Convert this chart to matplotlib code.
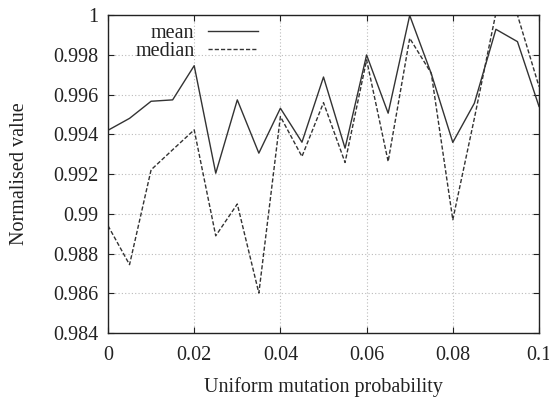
import matplotlib
matplotlib.use("Agg")
import matplotlib.pyplot as plt

prob = [0.0, 0.005, 0.01, 0.015, 0.02, 0.025, 0.03, 0.035, 0.04, 0.045, 0.05,
        0.055, 0.06, 0.065, 0.07, 0.075, 0.08, 0.085, 0.09, 0.095, 0.1]
mean = [0.9942, 0.9948, 0.99566, 0.99573, 0.99745, 0.99204, 0.99573, 0.99305,
        0.99531, 0.9936, 0.99688, 0.9933, 0.99799, 0.99506, 0.99998, 0.99705,
        0.99359, 0.99556, 0.99928, 0.99866, 0.9954]
median = [0.9894, 0.98744, 0.99221, 0.99322, 0.99422, 0.98889, 0.99049, 0.98601,
          0.99489, 0.99288, 0.99559, 0.99258, 0.99774, 0.99263, 0.99883, 0.99707,
          0.9897, 0.9948, 1.0001, 1.0, 0.9964]
xticks = [0, 0.02, 0.04, 0.06, 0.08, 0.1]
xticklabels = ["0", "0.02", "0.04", "0.06", "0.08", "0.1"]
yticks = [0.984, 0.986, 0.988, 0.99, 0.992, 0.994, 0.996, 0.998, 1.0]
yticklabels = ["0.984", "0.986", "0.988", "0.99", "0.992", "0.994", "0.996", "0.998", "1"]

plt.rcParams['font.family'] = ['Liberation Serif', 'DejaVu Serif']
plt.rcParams['font.size'] = 14.5

fig = plt.figure(figsize=(5.49, 3.98), dpi=100)
ax = fig.add_axes([0.1967, 0.1633, 0.9818 - 0.1967, 0.9623 - 0.1633])

ax.plot(prob, mean, color='#333333', lw=1.0, label='mean')
ax.plot(prob, median, color='#333333', lw=1.0, ls=(0, (3, 1.5)), label='median')

ax.set_xlim(0, 0.1)
ax.set_ylim(0.984, 1.0)
ax.set_xticks(xticks)
ax.set_xticklabels(xticklabels)
ax.set_yticks(yticks)
ax.set_yticklabels(yticklabels)
ax.tick_params(direction='in', top=True, right=True, length=4, width=0.8,
               colors='#222222', labelcolor='#222222')
ax.tick_params(axis='x', pad=9)
ax.tick_params(axis='y', pad=7)
ax.grid(True, color='#bbbbbb', ls=(0, (1, 2)), lw=0.8)
for s in ax.spines.values():
    s.set_color('#222222')
    s.set_linewidth(1.0)

ax.set_xlabel('Uniform mutation probability', color='#222222', labelpad=9)
ax.set_ylabel('Normalised value', color='#222222')
ax.yaxis.set_label_coords(-0.184, 0.5)

leg = ax.legend(loc='upper right', bbox_to_anchor=(0.348, 0.972), markerfirst=False,
                frameon=False, handlelength=2.5, handletextpad=0.65,
                labelspacing=-0.05, borderpad=0.0, borderaxespad=0.0)
for t in leg.get_texts():
    t.set_color('#222222')

fig.savefig('out.png', dpi=100)
